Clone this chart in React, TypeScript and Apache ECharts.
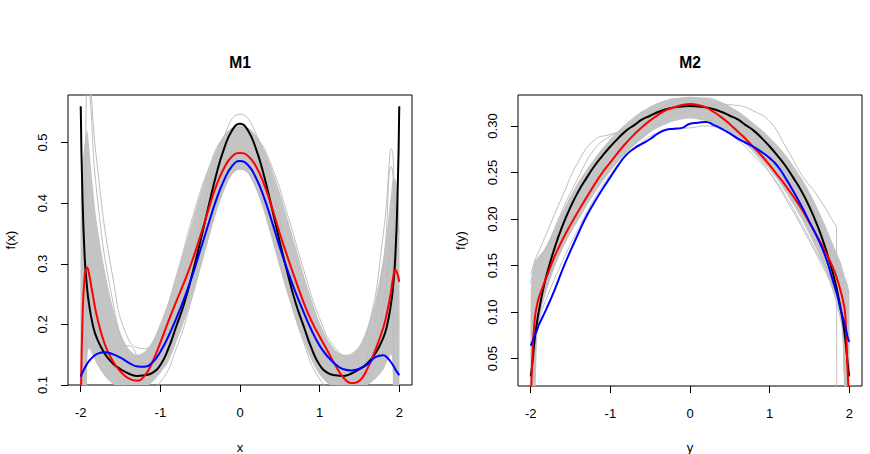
import React, { useEffect, useRef } from "react";
import * as echarts from "echarts";

// Evaluation grid shared by the main curves and the ensemble band
const xGrid = [
  -2, -1.98, -1.95, -1.92, -1.9, -1.85, -1.8,
  -1.7, -1.6, -1.5, -1.4, -1.3, -1.2, -1.1, -1,
  -0.9, -0.8, -0.7, -0.6, -0.5, -0.4, -0.3, -0.2, -0.1,
  0,
  0.1, 0.2, 0.3, 0.4, 0.5, 0.6, 0.7, 0.8, 0.9,
  1, 1.1, 1.2, 1.3, 1.4, 1.5, 1.6, 1.7,
  1.8, 1.85, 1.9, 1.92, 1.95, 1.98, 2,
];

// Coarser grids for the individual replicate curves
const xCoarse = [-2, -1.95, -1.9, -1.8, -1.6, -1.4, -1.2, -1, -0.8, -0.6, -0.4, -0.2, 0, 0.2, 0.4, 0.6, 0.8, 1, 1.2, 1.4, 1.6, 1.8, 1.9, 1.95, 2];
const xCoarseCut = [-2, -1.95, -1.9, -1.8, -1.6, -1.4, -1.2, -1, -0.8, -0.6, -0.4, -0.2, 0, 0.2, 0.4, 0.6, 0.8, 1, 1.2, 1.4, 1.6, 1.8, 1.84, 1.845, 2];

const xTicks = [-2, -1, 0, 1, 2];
const m1YTicks = [0.1, 0.2, 0.3, 0.4, 0.5];
const m2YTicks = [0.05, 0.1, 0.15, 0.2, 0.25, 0.3];

// ---- M1 ----
const m1True = [
  0.56, 0.42, 0.31, 0.26, 0.237, 0.2, 0.178,
  0.152, 0.136, 0.126, 0.119, 0.115, 0.116, 0.12, 0.133,
  0.16, 0.197, 0.235, 0.283, 0.336, 0.392, 0.446, 0.49, 0.52,
  0.531,
  0.52, 0.49, 0.446, 0.392, 0.336, 0.283, 0.235, 0.197, 0.16,
  0.133, 0.12, 0.116, 0.115, 0.119, 0.126, 0.136, 0.152,
  0.178, 0.2, 0.237, 0.26, 0.31, 0.42, 0.56,
];
const m1Red = [
  0.04, 0.2, 0.28, 0.294, 0.286, 0.25, 0.215,
  0.168, 0.14, 0.122, 0.111, 0.107, 0.115, 0.138, 0.17,
  0.205, 0.238, 0.27, 0.305, 0.345, 0.388, 0.428, 0.458, 0.477,
  0.483,
  0.478, 0.461, 0.432, 0.393, 0.35, 0.31, 0.272, 0.236, 0.205,
  0.18, 0.156, 0.132, 0.112, 0.103, 0.107, 0.127, 0.158,
  0.195, 0.222, 0.257, 0.275, 0.29, 0.282, 0.27,
];
const m1Blue = [
  0.114, 0.12, 0.128, 0.135, 0.139, 0.146, 0.151,
  0.154, 0.151, 0.145, 0.137, 0.131, 0.13, 0.137, 0.155,
  0.18, 0.21, 0.243, 0.28, 0.322, 0.364, 0.405, 0.438, 0.461,
  0.4696,
  0.463, 0.442, 0.41, 0.37, 0.327, 0.288, 0.252, 0.22, 0.19,
  0.165, 0.147, 0.134, 0.126, 0.124, 0.127, 0.134, 0.146,
  0.149, 0.145, 0.137, 0.133, 0.126, 0.12, 0.116,
];
const m1BandLo = [
  0.05, 0.05, 0.05, 0.14, 0.16, 0.15, 0.135,
  0.115, 0.102, 0.095, 0.09, 0.09, 0.095, 0.105, 0.12,
  0.138, 0.17, 0.205, 0.245, 0.29, 0.337, 0.383, 0.42, 0.447,
  0.456,
  0.449, 0.423, 0.386, 0.34, 0.293, 0.248, 0.208, 0.172, 0.14,
  0.117, 0.103, 0.094, 0.09, 0.09, 0.093, 0.1, 0.11,
  0.125, 0.14, 0.15, 0.12, 0.05, 0.05, 0.05,
];
const m1BandHi = [
  0.4, 0.46, 0.5, 0.52, 0.5, 0.43, 0.37,
  0.29, 0.23, 0.185, 0.16, 0.15, 0.155, 0.172, 0.2,
  0.237, 0.278, 0.325, 0.37, 0.415, 0.455, 0.488, 0.512, 0.525,
  0.528,
  0.525, 0.512, 0.49, 0.457, 0.418, 0.373, 0.328, 0.282, 0.24,
  0.203, 0.175, 0.157, 0.15, 0.152, 0.165, 0.195, 0.24,
  0.31, 0.36, 0.42, 0.44, 0.44, 0.42, 0.38,
];
const m1Rep1 = [0.6, 0.62, 0.6, 0.42, 0.24, 0.15, 0.12, 0.135, 0.2, 0.305, 0.42, 0.51, 0.547, 0.515, 0.43, 0.315, 0.205, 0.135, 0.11, 0.11, 0.15, 0.3, 0.46, 0.4, 0.35];
const m1Rep2 = [0.0, 0.35, 0.62, 0.47, 0.28, 0.175, 0.16, 0.2, 0.28, 0.375, 0.455, 0.51, 0.525, 0.51, 0.46, 0.38, 0.29, 0.21, 0.16, 0.145, 0.19, 0.35, 0.49, 0.3, 0.0];
const m1Rep3 = [0.0, 0.1, 0.3, 0.22, 0.15, 0.165, 0.135, 0.14, 0.19, 0.28, 0.38, 0.46, 0.49, 0.47, 0.4, 0.3, 0.2, 0.13, 0.1, 0.1, 0.13, 0.24, 0.35, 0.1, 0.0];
const m1Rep4 = [0.0, 0.0, 0.25, 0.2, 0.13, 0.095, 0.092, 0.105, 0.16, 0.245, 0.345, 0.43, 0.456, 0.428, 0.35, 0.255, 0.17, 0.11, 0.09, 0.088, 0.115, 0.22, 0.33, 0.0, 0.0];

// ---- M2 ----
const m2True = [
  0.031, 0.045, 0.071, 0.09, 0.1, 0.122, 0.14,
  0.169, 0.193, 0.213, 0.23, 0.244, 0.257, 0.268, 0.278,
  0.287, 0.295, 0.301, 0.307, 0.311, 0.315, 0.318, 0.32, 0.321,
  0.3215,
  0.321, 0.32, 0.318, 0.315, 0.311, 0.307, 0.301, 0.295, 0.287,
  0.278, 0.268, 0.257, 0.244, 0.23, 0.213, 0.193, 0.169,
  0.14, 0.122, 0.1, 0.09, 0.071, 0.045, 0.031,
];
const m2Red = [
  0.0, 0.05, 0.092, 0.108, 0.115, 0.127, 0.138,
  0.16, 0.178, 0.194, 0.209, 0.223, 0.237, 0.25, 0.261,
  0.272, 0.282, 0.291, 0.299, 0.306, 0.312, 0.317, 0.32, 0.3225,
  0.3235,
  0.3225, 0.32, 0.315, 0.309, 0.302, 0.294, 0.286, 0.277, 0.268,
  0.258, 0.247, 0.236, 0.224, 0.211, 0.196, 0.181, 0.165,
  0.147, 0.135, 0.12, 0.113, 0.097, 0.035, 0.005,
];
const m2Blue = [
  0.064, 0.068, 0.075, 0.081, 0.086, 0.095, 0.104,
  0.124, 0.146, 0.166, 0.185, 0.203, 0.218, 0.232, 0.245,
  0.258, 0.269, 0.276, 0.281, 0.286, 0.292, 0.296, 0.297, 0.298,
  0.3025,
  0.3035, 0.3043, 0.301, 0.297, 0.292, 0.2865, 0.282, 0.2775, 0.272,
  0.2655, 0.257, 0.244, 0.2295, 0.214, 0.197, 0.18, 0.16,
  0.132, 0.118, 0.1, 0.094, 0.084, 0.073, 0.068,
];
const m2BandLo = [
  0.0, 0.0, 0.0, 0.07, 0.09, 0.108, 0.123,
  0.148, 0.168, 0.185, 0.2, 0.215, 0.229, 0.241, 0.252,
  0.262, 0.271, 0.279, 0.286, 0.293, 0.298, 0.302, 0.305, 0.307,
  0.308,
  0.307, 0.305, 0.302, 0.298, 0.293, 0.287, 0.28, 0.272, 0.263,
  0.253, 0.242, 0.229, 0.215, 0.2, 0.183, 0.165, 0.145,
  0.12, 0.105, 0.085, 0.06, 0.0, 0.0, 0.0,
];
const m2BandHi = [
  0.12, 0.14, 0.155, 0.158, 0.16, 0.165, 0.172,
  0.19, 0.208, 0.225, 0.24, 0.253, 0.265, 0.276, 0.286,
  0.295, 0.303, 0.31, 0.316, 0.321, 0.325, 0.328, 0.33, 0.331,
  0.3315,
  0.331, 0.33, 0.328, 0.325, 0.321, 0.316, 0.31, 0.303, 0.296,
  0.288, 0.279, 0.269, 0.257, 0.244, 0.229, 0.212, 0.193,
  0.172, 0.162, 0.152, 0.145, 0.137, 0.13, 0.12,
];
const m2Rep1 = [0.13, 0.15, 0.155, 0.17, 0.21, 0.245, 0.275, 0.289, 0.296, 0.305, 0.312, 0.318, 0.32, 0.318, 0.308, 0.292, 0.272, 0.25, 0.222, 0.192, 0.16, 0.125, 0.1, 0.02, 0.0];
const m2Rep2 = [0.0, 0.05, 0.1, 0.13, 0.17, 0.2, 0.228, 0.252, 0.272, 0.289, 0.302, 0.312, 0.318, 0.321, 0.323, 0.322, 0.316, 0.305, 0.278, 0.248, 0.225, 0.197, 0.19, 0.0, 0.0];
const m2Rep3 = [0.02, 0.07, 0.09, 0.115, 0.155, 0.19, 0.222, 0.248, 0.268, 0.283, 0.293, 0.297, 0.298, 0.3, 0.296, 0.285, 0.268, 0.25, 0.225, 0.195, 0.163, 0.13, 0.11, 0.02, 0.0];
const m2Rep4 = [0.14, 0.155, 0.165, 0.185, 0.225, 0.262, 0.285, 0.291, 0.297, 0.307, 0.318, 0.326, 0.33, 0.33, 0.325, 0.314, 0.298, 0.28, 0.258, 0.232, 0.2, 0.16, 0.14, 0.13, 0.12];

const FONT = "'Liberation Sans', Arial, Helvetica, sans-serif";
const GRAY = "#bebebe";
const BAND = "#c4c4c4";

const toPairs = (xs: number[], ys: number[]) => xs.map((x, i) => [x, ys[i]]);

function curve(xs: number[], ys: number[], color: string, width: number, panel: number) {
  return {
    type: "line",
    xAxisIndex: panel,
    yAxisIndex: panel,
    data: toPairs(xs, ys),
    symbol: "none",
    smooth: 0.5,
    silent: true,
    clip: true,
    lineStyle: { color, width },
  };
}

// Dense core of the replicate curves: a filled polygon between the lower and upper envelopes
function band(xs: number[], lo: number[], hi: number[], panel: number) {
  const outline = [...toPairs(xs, hi), ...toPairs(xs, lo).reverse()];
  return {
    type: "custom",
    xAxisIndex: panel,
    yAxisIndex: panel,
    data: [[0, 0]],
    silent: true,
    clip: true,
    renderItem: (params: any, api: any) => {
      const cs = params.coordSys;
      return {
        type: "polygon",
        shape: { points: outline.map((p) => api.coord(p)), smooth: 0.3 },
        style: { fill: BAND, stroke: "none" },
        clipPath: { type: "rect", shape: { x: cs.x, y: cs.y, width: cs.width, height: cs.height } },
      };
    },
  };
}

function xAxis(panel: number) {
  return {
    gridIndex: panel,
    type: "value",
    min: -2.16,
    max: 2.16,
    axisLine: { show: false, onZero: false },
    splitLine: { show: false },
    axisTick: { show: true, inside: false, length: 7, lineStyle: { color: "#000", width: 1 }, customValues: xTicks },
    axisLabel: { customValues: xTicks, margin: 21, color: "#000", fontSize: 13, fontFamily: FONT },
  };
}

function yAxis(panel: number, min: number, max: number, ticks: number[], digits: number) {
  return {
    gridIndex: panel,
    type: "value",
    min,
    max,
    axisLine: { show: false, onZero: false },
    splitLine: { show: false },
    axisTick: { show: true, inside: false, length: 7, lineStyle: { color: "#000", width: 1 }, customValues: ticks },
    axisLabel: {
      customValues: ticks,
      rotate: 90,
      margin: 19,
      color: "#000",
      fontSize: 13,
      fontFamily: FONT,
      formatter: (v: number) => v.toFixed(digits),
    },
  };
}

function label(text: string, x: number, y: number, opts: Record<string, unknown> = {}) {
  return {
    type: "text",
    x,
    y,
    rotation: (opts.rotation as number) || 0,
    silent: true,
    style: {
      text,
      fill: "#000",
      fontSize: (opts.fontSize as number) || 13,
      fontWeight: (opts.fontWeight as string) || "normal",
      fontFamily: FONT,
      align: "center",
      verticalAlign: "middle",
    },
  };
}

const option = {
  animation: false,
  backgroundColor: "#fff",
  grid: [
    { left: 68, top: 95, width: 344, height: 290, show: true, borderColor: "#000", borderWidth: 1, backgroundColor: "transparent", containLabel: false },
    { left: 518, top: 95, width: 344, height: 291, show: true, borderColor: "#000", borderWidth: 1, backgroundColor: "transparent", containLabel: false },
  ],
  xAxis: [xAxis(0), xAxis(1)],
  yAxis: [yAxis(0, 0.1, 0.5785, m1YTicks, 1), yAxis(1, 0.0206, 0.3333, m2YTicks, 2)],
  series: [
    band(xGrid, m1BandLo, m1BandHi, 0),
    curve(xCoarse, m1Rep1, GRAY, 1, 0),
    curve(xCoarse, m1Rep2, GRAY, 1, 0),
    curve(xCoarse, m1Rep3, GRAY, 1, 0),
    curve(xCoarse, m1Rep4, GRAY, 1, 0),
    curve(xGrid, m1True, "#000000", 2, 0),
    curve(xGrid, m1Red, "#ff0000", 2, 0),
    curve(xGrid, m1Blue, "#0000ff", 2, 0),

    band(xGrid, m2BandLo, m2BandHi, 1),
    curve(xCoarse, m2Rep1, GRAY, 1, 1),
    curve(xCoarseCut, m2Rep2, GRAY, 1, 1),
    curve(xCoarse, m2Rep3, GRAY, 1, 1),
    curve(xCoarse, m2Rep4, GRAY, 1, 1),
    curve(xGrid, m2True, "#000000", 2, 1),
    curve(xGrid, m2Red, "#ff0000", 2, 1),
    curve(xGrid, m2Blue, "#0000ff", 2, 1),
  ],
  graphic: [
    label("M1", 240, 62.5, { fontSize: 15.6, fontWeight: "bold" }),
    label("M2", 690, 62.5, { fontSize: 15.6, fontWeight: "bold" }),
    label("x", 240, 447),
    label("y", 690, 447),
    label("f(x)", 10.5, 240, { rotation: Math.PI / 2 }),
    label("f(y)", 460.5, 240.5, { rotation: Math.PI / 2 }),
  ],
};

export default function App() {
  const ref = useRef<HTMLDivElement>(null);
  useEffect(() => {
    if (!ref.current) return;
    const chart = echarts.init(ref.current, null, { renderer: "svg" });
    chart.setOption(option as any);
    return () => chart.dispose();
  }, []);
  return (
    <div
      ref={ref}
      style={{ position: "absolute", left: 0, top: 0, width: 870, height: 454, background: "#fff" }}
    />
  );
}
